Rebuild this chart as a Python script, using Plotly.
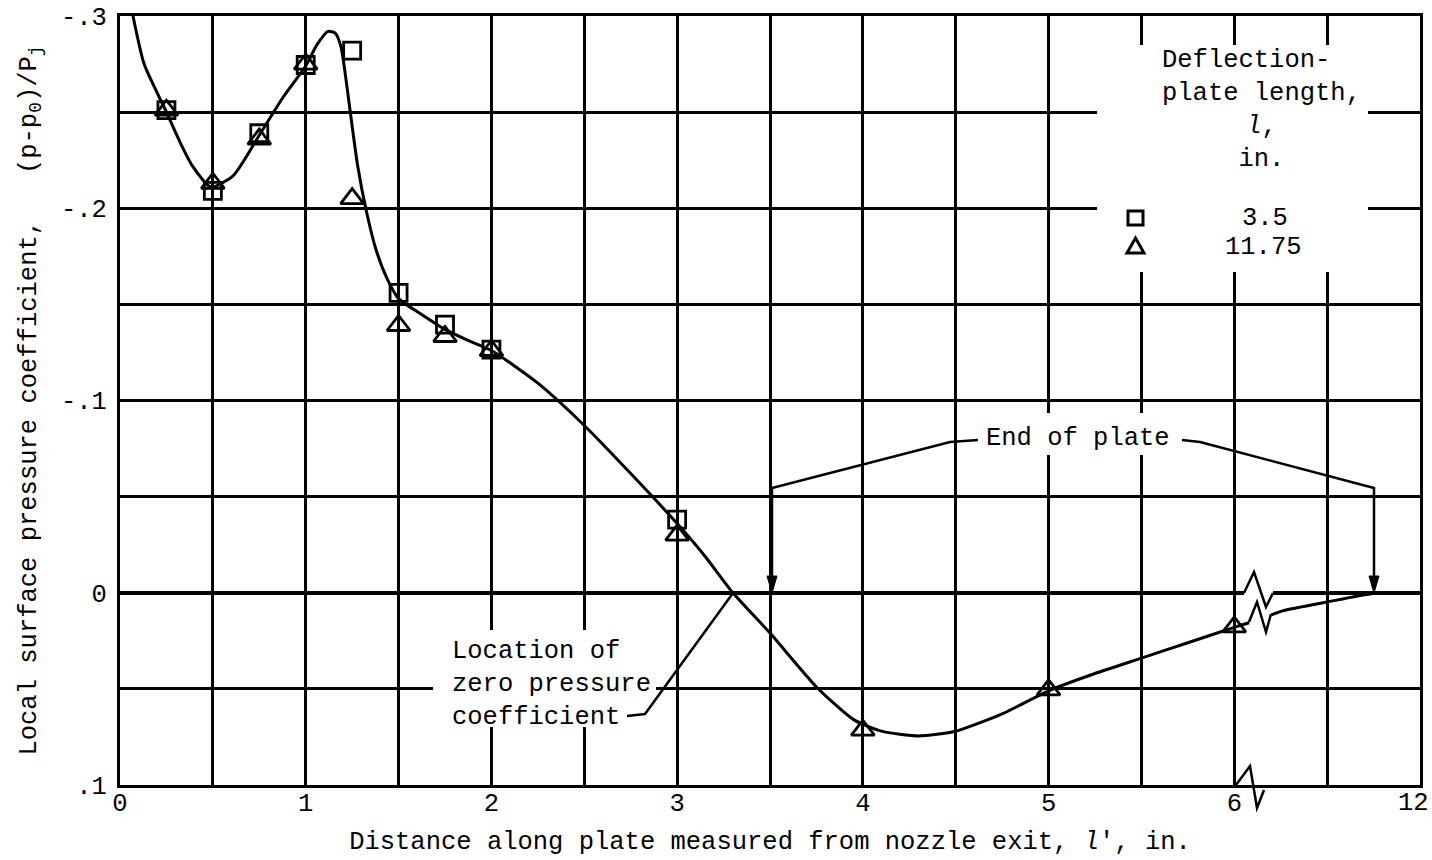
import plotly.graph_objects as go

# ---------------- data ----------------
# x axis is broken between 6 and 12: the label "12" sits at plot position 7
x_tick_pos = [0, 1, 2, 3, 4, 5, 6, 7]
x_tick_text = ["0", "1", "2", "3", "4", "5", "6", "12"]
y_tick_vals = [-0.3, -0.2, -0.1, 0.0, 0.1]
y_tick_text = ["-.3", "-.2", "-.1", "0", ".1"]

# Deflection-plate length 3.5 in. (squares)
sq_x = [0.25, 0.5, 0.75, 1.0, 1.25, 1.5, 1.75, 2.0, 3.0]
sq_y = [-0.251, -0.209, -0.239, -0.2745, -0.282, -0.156, -0.1395, -0.1265, -0.038]

# Deflection-plate length 11.75 in. (triangles)
tri_x = [0.25, 0.5, 0.75, 1.0, 1.25, 1.5, 1.75, 2.0, 3.0, 4.0, 5.0, 6.0]
tri_y = [-0.251, -0.213, -0.236, -0.275, -0.205, -0.139, -0.1333, -0.126, -0.030, 0.0715, 0.0505, 0.0178]

# faired curve (before the axis break)
curve1_x = [0.07, 0.13, 0.25, 0.32, 0.39, 0.49, 0.61, 0.75, 0.88, 1.0, 1.06, 1.12, 1.16, 1.19,
            1.21, 1.24, 1.28, 1.33, 1.38, 1.44, 1.5, 1.62, 1.75, 1.88, 2.0, 2.25, 2.5, 2.75, 3.0,
            3.15, 3.3, 3.5, 3.75, 3.95, 4.1, 4.3, 4.5, 4.75, 5.0, 5.25, 5.5, 5.75, 6.0, 6.08]
curve1_y = [-0.300, -0.275, -0.250, -0.235, -0.222, -0.211, -0.217, -0.238, -0.258, -0.274,
            -0.285, -0.292, -0.291, -0.284, -0.272, -0.250, -0.222, -0.197, -0.178, -0.163, -0.153,
            -0.145, -0.137, -0.131, -0.126, -0.109, -0.087, -0.062, -0.036, -0.019, 0.0,
            0.021, 0.049, 0.066, 0.072, 0.0745, 0.072, 0.063, 0.051, 0.042, 0.034, 0.026,
            0.018, 0.0156]
# faired curve (after the axis break)
curve2_x = [6.20, 6.26, 6.5, 6.75, 7.0]
curve2_y = [0.0115, 0.0094, 0.0048, 0.0004, 0.0]

FONT = "Liberation Mono"
FS = 25.5

# pixel -> data helpers for decorations (plot area 120..1420 x 16..785)
def X(px):
    return (px - 120) / 1300 * 7

def Y(py):
    return (py - 16) / 769 * 0.4 - 0.3

def PX(px):
    return (px - 120) / 1300

def PY(py):
    return (785 - py) / 769

fig = go.Figure()

fig.add_trace(go.Scatter(x=curve1_x, y=curve1_y, mode="lines",
                         line=dict(color="black", width=3, shape="spline", smoothing=0.6),
                         showlegend=False, hoverinfo="skip"))
fig.add_trace(go.Scatter(x=curve2_x, y=curve2_y, mode="lines",
                         line=dict(color="black", width=3, shape="spline", smoothing=0.6),
                         showlegend=False, hoverinfo="skip"))
fig.add_trace(go.Scatter(x=sq_x, y=sq_y, mode="markers", name="3.5",
                         marker=dict(symbol="square-open", size=17, color="black",
                                     line=dict(width=2.8, color="black")),
                         showlegend=False))
fig.add_trace(go.Scatter(x=tri_x, y=tri_y, mode="markers", name="11.75",
                         marker=dict(symbol="triangle-up-open", size=20, color="black",
                                     line=dict(width=2.8, color="black")),
                         showlegend=False))

shapes = []
# white areas interrupting the grid
for (x0, x1, y0, y1) in [(1097, 1368, 45, 272), (962, 1180, 413, 455), (433, 656, 630, 727)]:
    shapes.append(dict(type="rect", xref="x", yref="y", x0=X(x0), x1=X(x1), y0=Y(y0), y1=Y(y1),
                       fillcolor="white", line=dict(width=0), layer="between"))
# zero-line break cover
shapes.append(dict(type="rect", xref="x", yref="y", x0=X(1244), x1=X(1273), y0=Y(587), y1=Y(598),
                   fillcolor="white", line=dict(width=0), layer="above"))

def path(pts, closed=False):
    s = "M " + " L ".join(f"{X(a)},{Y(b)}" for a, b in pts)
    return s + (" Z" if closed else "")

def ppath(pts):
    return "M " + " L ".join(f"{PX(a)},{PY(b)}" for a, b in pts)

line_style = dict(color="black", width=2.5)
# End of plate leaders
shapes.append(dict(type="path", xref="x", yref="y", layer="above", line=line_style,
                   path=path([(978, 440), (950, 442), (772, 488), (772, 580)])))
shapes.append(dict(type="path", xref="x", yref="y", layer="above", line=line_style,
                   path=path([(1182, 440), (1200, 442), (1374, 488), (1374, 580)])))
for ax in (772, 1374):
    shapes.append(dict(type="path", xref="x", yref="y", layer="above", fillcolor="black",
                       line=dict(color="black", width=1),
                       path=path([(ax - 5, 576), (ax + 5, 576), (ax, 593)], closed=True)))
# Location of zero pressure coefficient leader
shapes.append(dict(type="path", xref="x", yref="y", layer="above", line=line_style,
                   path=path([(627, 716), (645, 714), (733, 593)])))
# break symbols
zig = dict(color="black", width=2.5)
shapes.append(dict(type="path", xref="x", yref="y", layer="above", line=zig,
                   path=path([(1244, 593), (1254, 572), (1266, 607), (1273, 593)])))
shapes.append(dict(type="path", xref="x", yref="y", layer="above", line=zig,
                   path=path([(1249, 622), (1257, 602), (1266, 632), (1271, 614)])))
shapes.append(dict(type="path", xref="paper", yref="paper", layer="above", line=zig,
                   path=ppath([(1236, 785), (1250, 766), (1257, 808), (1264, 790)])))
# legend symbols
shapes.append(dict(type="rect", xref="x", yref="y", layer="above",
                   x0=X(1128), x1=X(1143), y0=Y(211), y1=Y(225),
                   line=dict(color="black", width=3)))
shapes.append(dict(type="path", xref="x", yref="y", layer="above", line=dict(color="black", width=3),
                   path=path([(1127, 253), (1144, 253), (1135.5, 238)], closed=True)))

annots = []
def txt(t, px, py, xanchor="center", align="center"):
    annots.append(dict(text=t, x=X(px), y=Y(py), xref="x", yref="y", showarrow=False,
                       xanchor=xanchor, yanchor="middle", align=align,
                       font=dict(family=FONT, size=FS, color="black")))

txt("Deflection-\u00a0\u00a0<br>plate length,<br><i>l</i>,<br>in.", 1261, 110)
txt("3.5", 1265, 218)
txt("11.75", 1263, 247)
txt("End of plate", 1078, 438)
txt("Location of<br>zero pressure<br>coefficient", 450, 684, xanchor="left", align="left")

# last tick label (at the plot's right edge) placed so it stays inside the page
annots.append(dict(text=x_tick_text[-1], x=PX(1431), y=PY(803), xref="paper", yref="paper",
                   showarrow=False, xanchor="right", yanchor="middle",
                   font=dict(family=FONT, size=FS, color="black")))

fig.update_layout(
    width=1432, height=860,
    margin=dict(l=120, r=12, t=16, b=75),
    paper_bgcolor="white", plot_bgcolor="white",
    font=dict(family=FONT, size=FS, color="black"),
    shapes=shapes, annotations=annots,
    showlegend=False,
)

fig.update_xaxes(
    range=[0, 7], tickmode="array", tickvals=x_tick_pos[:-1], ticktext=x_tick_text[:-1],
    showgrid=True, gridcolor="black", gridwidth=2.5,
    minor=dict(dtick=0.5, tick0=0, showgrid=True, gridcolor="black", gridwidth=2.5, ticks=""),
    showline=True, linecolor="black", linewidth=3, mirror=True,
    zeroline=False, ticks="", ticklabelstandoff=-8,
    automargin=False,
    tickfont=dict(family=FONT, size=FS, color="black"),
    title=dict(text="Distance along plate measured from nozzle exit, <i>l</i>', in.",
               font=dict(family=FONT, size=FS, color="black"), standoff=14),
)
fig.update_yaxes(
    range=[0.1, -0.3], tickmode="array", tickvals=y_tick_vals, ticktext=y_tick_text,
    showgrid=True, gridcolor="black", gridwidth=2.5,
    minor=dict(dtick=0.05, tick0=0, showgrid=True, gridcolor="black", gridwidth=2.5, ticks=""),
    showline=True, linecolor="black", linewidth=3, mirror=True,
    zeroline=True, zerolinecolor="black", zerolinewidth=3.5,
    ticks="", ticklabelstandoff=5, automargin=False,
    tickfont=dict(family=FONT, size=FS, color="black"),
    title=dict(text="Local surface pressure coefficient,   (p-p<sub>0</sub>)/P<sub>j</sub>",
               font=dict(family=FONT, size=FS, color="black"), standoff=18),
)

fig.write_html("out.html")
